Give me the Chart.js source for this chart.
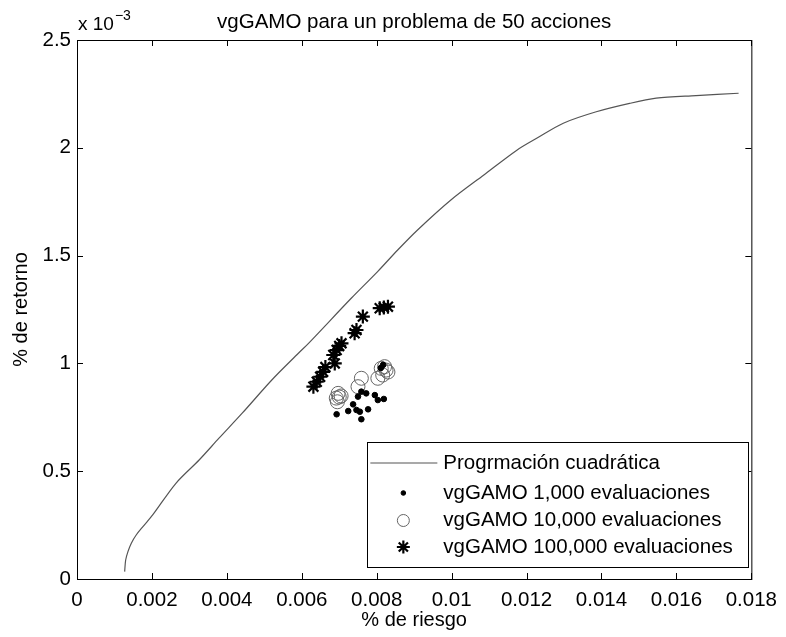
<!DOCTYPE html>
<html><head><meta charset="utf-8">
<script src="https://cdn.jsdelivr.net/npm/chart.js@4.4.1/dist/chart.umd.min.js"></script>
<style>html,body{margin:0;padding:0;background:#fff}#wrap{width:786px;height:637px}</style>
</head><body><div id="wrap"><canvas id="c" width="786" height="637"></canvas></div>
<script>
// Tick labels
const xTickLabels = ['0','0.002','0.004','0.006','0.008','0.01','0.012','0.014','0.016','0.018'];
const yTickLabels = ['0','0.5','1','1.5','2','2.5'];   // x 10^-3

// Frontera eficiente (programación cuadrática); retorno en unidades de 10^-3
const curveX = [0.001272,0.001299,0.00136,0.00145,0.00158,0.00176,0.00202,0.00264,0.00326,0.00379,0.00441,0.00520,0.00591,0.00618,0.00732,0.00803,0.00856,0.00909,0.00998,0.01086,0.01175,0.01227,0.01298,0.01386,0.01475,0.01546,0.01652,0.01766];
const curveY = [0.034,0.088,0.127,0.166,0.204,0.243,0.297,0.444,0.552,0.653,0.769,0.923,1.047,1.093,1.302,1.427,1.526,1.619,1.758,1.874,1.990,2.044,2.114,2.167,2.206,2.230,2.242,2.253];

// vgGAMO 1,000 evaluaciones
const g1kX = [0.00693,0.00724,0.00737,0.00750,0.00759,0.00772,0.00746,0.00755,0.00759,0.00777,0.00795,0.00803,0.00819,0.00817,0.00811];
const g1kY = [0.764,0.779,0.810,0.846,0.869,0.861,0.784,0.776,0.741,0.787,0.853,0.830,0.835,0.993,0.979];

// vgGAMO 10,000 evaluaciones
const g10kX = [0.00697,0.00700,0.00695,0.00692,0.00705,0.00759,0.00750,0.00812,0.00825,0.00803,0.00816,0.00821,0.00830];
const g10kY = [0.861,0.844,0.822,0.839,0.849,0.931,0.892,0.977,0.969,0.931,0.946,0.985,0.960];

// vgGAMO 100,000 evaluaciones
const g100kX = [0.00631,0.00640,0.00649,0.00657,0.00663,0.00688,0.00684,0.00693,0.00700,0.00706,0.00741,0.00746,0.00763,0.00808,0.00819,0.00830];
const g100kY = [0.892,0.915,0.938,0.961,0.983,1.000,1.039,1.062,1.081,1.093,1.140,1.155,1.217,1.256,1.259,1.263];

const FONT = "'Liberation Sans', Arial, Helvetica, sans-serif";
const zip = (xs, ys) => xs.map((x, i) => ({x, y: ys[i]}));

const boxPlugin = {
  id: 'matlabBox',
  afterDatasetsDraw(chart) {
    const {ctx, chartArea: a, scales} = chart;
    ctx.save();
    ctx.strokeStyle = '#000';
    ctx.lineWidth = 1;
    ctx.strokeRect(a.left + 0.5, a.top + 0.5, a.right - a.left, a.bottom - a.top);
    const tl = 6;
    ctx.beginPath();
    scales.x.ticks.forEach(t => {
      const px = Math.round(scales.x.getPixelForValue(t.value)) + 0.5;
      ctx.moveTo(px, a.bottom); ctx.lineTo(px, a.bottom - tl);
      ctx.moveTo(px, a.top); ctx.lineTo(px, a.top + tl);
    });
    scales.y.ticks.forEach(t => {
      const py = Math.round(scales.y.getPixelForValue(t.value)) + 0.5;
      ctx.moveTo(a.left, py); ctx.lineTo(a.left + tl, py);
      ctx.moveTo(a.right, py); ctx.lineTo(a.right - tl, py);
    });
    ctx.stroke();
    // exponent label
    ctx.fillStyle = '#000';
    ctx.textBaseline = 'alphabetic';
    ctx.textAlign = 'left';
    ctx.font = '19px ' + FONT;
    ctx.fillText('x 10', a.left + 1, a.top - 10);
    const w = ctx.measureText('x 10').width;
    ctx.font = '14px ' + FONT;
    ctx.fillText('\u22123', a.left + 2 + w, a.top - 20);
    ctx.restore();
  },
  afterDraw(chart) {
    // legend box inside axes (SouthEast)
    const {ctx, chartArea: a} = chart;
    const ds = chart.data.datasets;
    const bw = 381, bh = 125;
    const bx = a.right - 3 - bw, by = a.bottom - 12 - bh;
    ctx.save();
    ctx.fillStyle = '#fff';
    ctx.fillRect(bx, by, bw, bh);
    ctx.strokeStyle = '#000';
    ctx.lineWidth = 1;
    ctx.strokeRect(Math.round(bx) + 0.5, Math.round(by) + 0.5, bw, bh);
    const rowY = [21, 51, 78.5, 105];
    const symX = bx + 36, textX = bx + 76;
    ds.forEach((d, i) => {
      const y = by + rowY[i];
      if (d.showLine) {
        ctx.strokeStyle = d.borderColor;
        ctx.lineWidth = d.borderWidth;
        ctx.beginPath(); ctx.moveTo(bx + 3, y); ctx.lineTo(bx + 70, y); ctx.stroke();
      } else {
        ctx.strokeStyle = d.borderColor;
        ctx.fillStyle = d.backgroundColor;
        ctx.lineWidth = d.pointBorderWidth;
        Chart.helpers.drawPoint(ctx, {pointStyle: d.pointStyle, radius: d.legendRadius, borderWidth: d.pointBorderWidth, rotation: 0}, symX, y);
      }
      ctx.fillStyle = '#000';
      ctx.font = '20.5px ' + FONT;
      ctx.textBaseline = 'middle';
      ctx.textAlign = 'left';
      ctx.fillText(d.label, textX, y);
    });
    ctx.restore();
  }
};

new Chart(document.getElementById('c'), {
  type: 'scatter',
  data: {
    datasets: [
      {label: 'Progrmación cuadrática', data: zip(curveX, curveY), showLine: true, borderColor: '#555', borderWidth: 1.2, pointRadius: 0, tension: 0.3, backgroundColor: '#555'},
      {label: 'vgGAMO 1,000 evaluaciones', data: zip(g1kX, g1kY), pointStyle: 'circle', pointRadius: 2.8, backgroundColor: '#000', borderColor: '#000', pointBorderWidth: 1, legendRadius: 2.3},
      {label: 'vgGAMO 10,000 evaluaciones', data: zip(g10kX, g10kY), pointStyle: 'circle', pointRadius: 7, backgroundColor: 'rgba(0,0,0,0)', borderColor: '#666', pointBorderWidth: 1, legendRadius: 6},
      {label: 'vgGAMO 100,000 evaluaciones', data: zip(g100kX, g100kY), pointStyle: 'star', pointRadius: 7, backgroundColor: '#000', borderColor: '#000', pointBorderWidth: 2.2, legendRadius: 6.5}
    ]
  },
  options: {
    responsive: false,
    animation: false,
    layout: {padding: {left: 0, right: 30, top: 0, bottom: 0}},
    plugins: {
      legend: {display: false},
      tooltip: {enabled: false},
      title: {
        display: true, fullSize: false,
        text: 'vgGAMO para un problema de 50 acciones',
        color: '#000',
        font: {family: FONT, size: 20.5, weight: 'normal', lineHeight: '24px'},
        padding: {top: 10.5, bottom: 5.5}
      }
    },
    scales: {
      x: {
        type: 'linear', min: 0, max: 0.018,
        afterFit(s) { s.height = 58; },
        grid: {display: false, drawTicks: false},
        border: {display: false},
        ticks: {stepSize: 0.002, autoSkip: false, maxRotation: 0, padding: 9, color: '#000',
          font: {family: FONT, size: 20.5}, callback: (v, i) => xTickLabels[i]},
        title: {display: true, text: '% de riesgo', color: '#000', font: {family: FONT, size: 20, lineHeight: '24px'}, padding: {top: 0, bottom: 5}}
      },
      y: {
        type: 'linear', min: 0, max: 2.5,
        afterFit(s) { s.width = 77; },
        grid: {display: false, drawTicks: false},
        border: {display: false},
        ticks: {stepSize: 0.5, autoSkip: false, padding: 6, color: '#000',
          font: {family: FONT, size: 20.5}, callback: (v, i) => yTickLabels[i]},
        title: {display: true, text: '% de retorno', color: '#000', font: {family: FONT, size: 20, lineHeight: '24px'}, padding: {top: 9, bottom: 0}}
      }
    }
  },
  plugins: [boxPlugin]
});
</script>
</body></html>
